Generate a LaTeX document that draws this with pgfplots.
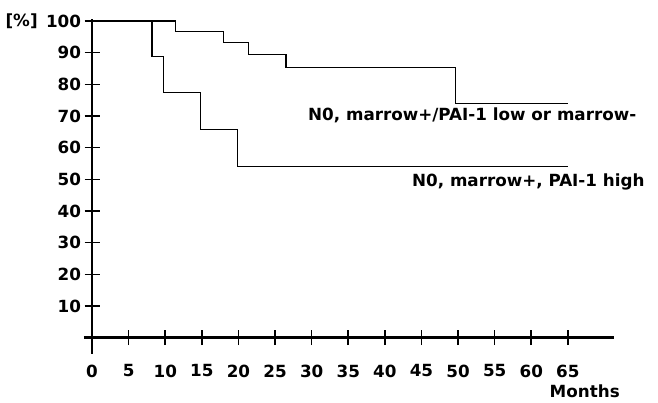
\documentclass[border=0pt]{standalone}
\usepackage{fontspec}
\setmainfont{DejaVu Sans}
\usepackage{pgfplots}
\pgfplotsset{compat=1.18}
\begin{document}
\begin{tikzpicture}[font=\bfseries\fontsize{16.75}{20}\selectfont]
\path[use as bounding box] (-84pt,-48.5pt) rectangle (574pt,353.5pt);
\begin{axis}[
 at={(0,0)}, anchor=south west,
 scale only axis, width=530pt, height=334.4pt,
 xmin=-1.1, xmax=71.3, ymin=-5, ymax=100.6,
 axis lines=middle, axis line style={-, line width=2.6pt},
 hide obscured x ticks=false, hide obscured y ticks=false,
 xtick={0,5,...,65}, ytick={10,20,...,100},
 tick align=center, major tick length=15pt, tick style={line width=1.6pt, black},
 /pgf/number format/assume math mode=true,
 xticklabel style={anchor=north, yshift=-16pt},
 yticklabel style={anchor=east},
 clip=false,
]
\addplot[const plot, black, line width=1.2pt] coordinates {
 (0,100) (11.4,96.8) (18.0,93.1) (21.4,89.3) (26.5,85.4) (49.6,74.0) (65,74.0)};
\addplot[const plot, black, line width=1.2pt] coordinates {
 (0,100) (8.2,88.9) (9.8,77.5) (14.8,65.8) (19.85,54.1) (65,54.1)};
\node[anchor=west, inner sep=0pt] at (axis cs:29.5,70.3) {N0, marrow+/PAI-1 low or marrow-};
\node[anchor=west, inner sep=0pt] at (axis cs:43.7,49.2) {N0, marrow+, PAI-1 high};
\node[anchor=east, inner sep=0pt] at (axis cs:-7.4,100) {[\%]};
\node[inner sep=0pt] at (axis cs:67.3,-16.8) {Months};
\end{axis}
\end{tikzpicture}
\end{document}
